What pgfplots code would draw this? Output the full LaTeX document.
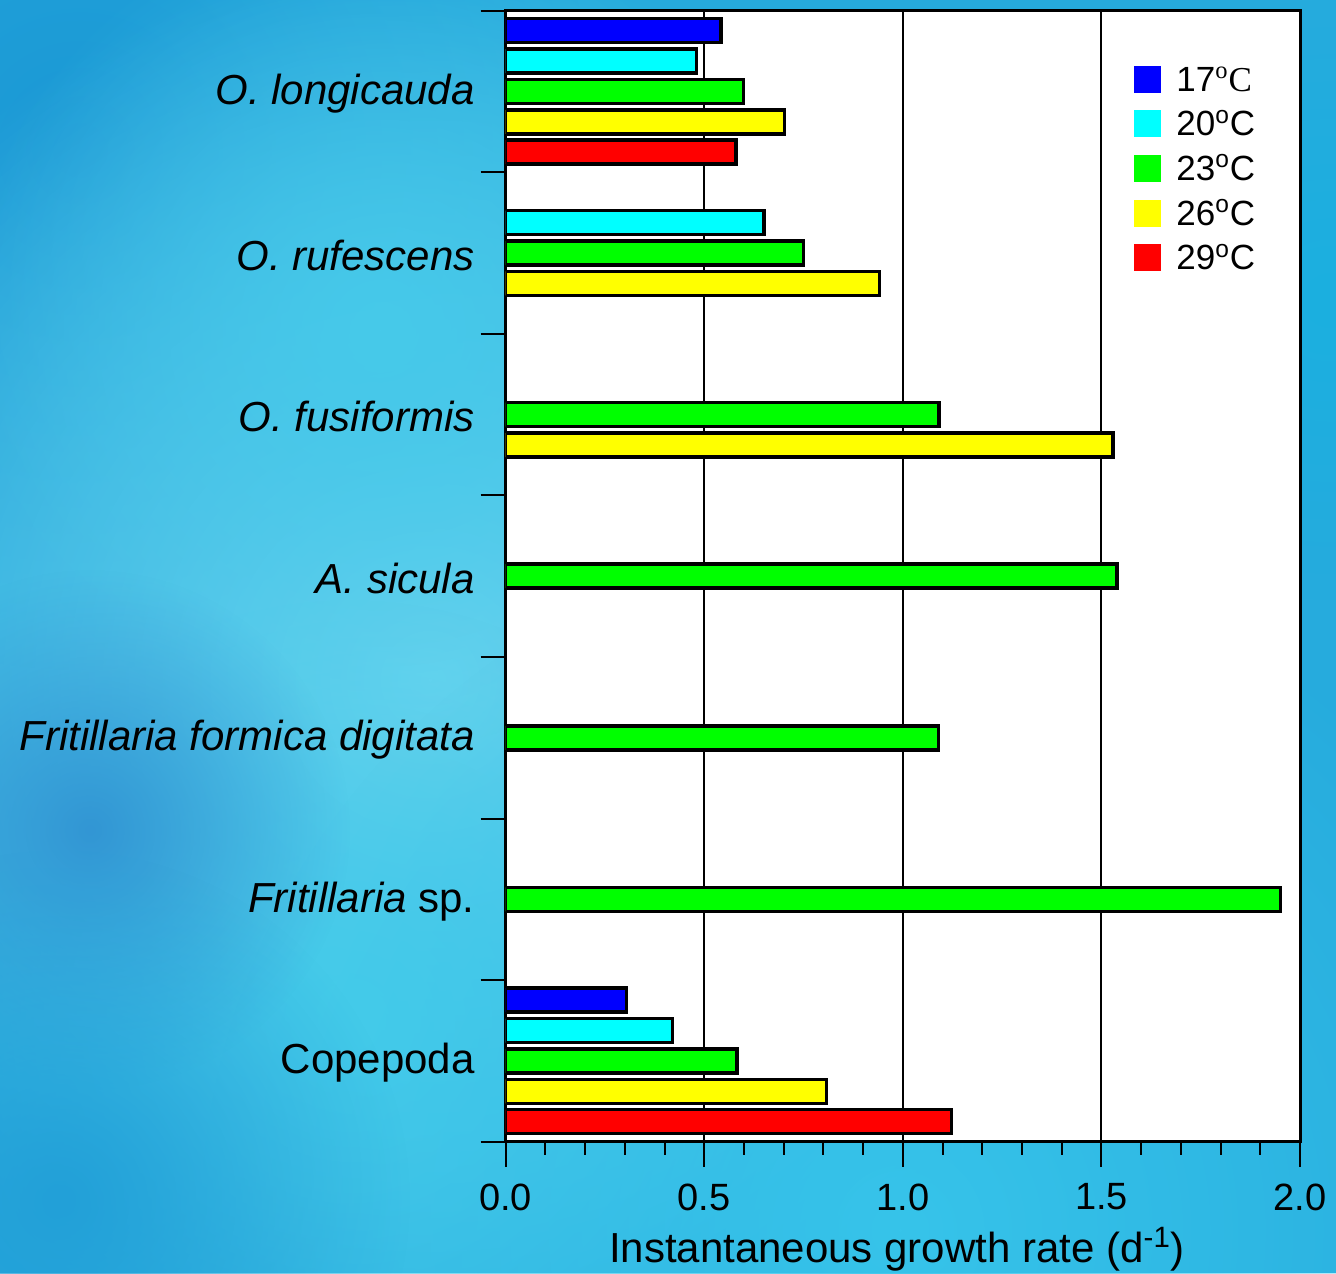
\documentclass[border=0pt]{standalone}
\usepackage{pgfplots}
\pgfplotsset{compat=1.18}
\usepackage{fontspec}
\setmainfont{Liberation Sans}
\newfontfamily\timesfont{Liberation Serif}
\usetikzlibrary{fadings}
\tikzfading[name=soft, inner color=transparent!0, outer color=transparent!100]
\definecolor{bgbase}{HTML}{26ABDD}
\definecolor{cA}{HTML}{0000FF}
\definecolor{cB}{HTML}{00FFFF}
\definecolor{cC}{HTML}{00FF00}
\definecolor{cD}{HTML}{FFFF00}
\definecolor{cE}{HTML}{FF0000}
\begin{document}
\begin{tikzpicture}
\begin{scope}[x=0.5pt,y=-0.5pt,shift={(-252.85pt,570.85pt)}]
  \fill[bgbase] (0,0) rectangle (1336,1273);
  \fill[color={rgb,255:red,27;green,152;blue,213}, path fading=soft] (80,150) circle (520);
  \fill[color={rgb,255:red,110;green,214;blue,240}, path fading=soft] (430,680) circle (720);
  \fill[color={rgb,255:red,70;green,202;blue,234}, path fading=soft] (380,330) circle (420);
  \fill[color={rgb,255:red,70;green,205;blue,234}, path fading=soft] (350,1020) circle (420);
  \fill[color={rgb,255:red,55;green,196;blue,234}, path fading=soft] (900,1230) circle (700);
  \fill[color={rgb,255:red,50;green,150;blue,212}, path fading=soft] (90,830) circle (260);
  \fill[color={rgb,255:red,34;green,160;blue,216}, path fading=soft] (60,1200) circle (350);
  \fill[color={rgb,255:red,27;green,176;blue,224}, path fading=soft] (1330,300) circle (300);
\end{scope}
\begin{axis}[
  at={(0pt,0pt)}, anchor=south west,
  scale only axis, width=397.15pt, height=565.5pt,
  xmin=0, xmax=2, ymin=-0.5, ymax=6.5,
  axis background/.style={fill=white},
  axis line style={line width=1.5pt},
  xbar, bar width=0.1485,
  xtick={0,0.5,1,1.5,2}, minor x tick num=4,
  xtick pos=bottom, ytick pos=left, tick align=outside,
  major tick length=12.5pt, minor tick length=6.5pt,
  tick style={black, line width=1pt},
  xmajorgrids, major grid style={black,line width=1pt},
  ytick={-0.5,0.5,1.5,2.5,3.5,4.5,5.5,6.5}, yticklabels={},
  extra y ticks={0,1,2,3,4,5,6},
  extra y tick labels={Copepoda, \textit{Fritillaria} sp., \textit{Fritillaria formica digitata}, \textit{A. sicula}, \textit{O. fusiformis}, \textit{O. rufescens}, \textit{O. longicauda}},
  extra y tick style={major tick length=0pt, yticklabel style={font=\fontsize{21}{24}\selectfont, xshift=-12pt, yshift=-1pt}},
  xticklabel style={font=\fontsize{19}{22}\selectfont, yshift=-5pt},
  xlabel={Instantaneous growth rate (d\textsuperscript{-1})},
  xlabel style={font=\fontsize{21}{24}\selectfont, at={(axis description cs:0.4926,0)}, anchor=base, yshift=-60.2pt},
  legend style={draw=none, fill=none, at={(rel axis cs:0.791,0.954)}, anchor=north west,
    font=\fontsize{17.5}{20}\selectfont, inner sep=0pt, row sep=6.2pt,
    nodes={inner sep=1.5pt, text height=12.6pt, text depth=0.5pt},
    /tikz/every odd column/.append style={column sep=6pt}},
  legend cell align=left,
  legend image code/.code={\fill[#1,draw=none] (0pt,-6.75pt) rectangle (13.5pt,6.75pt);},
  /pgf/number format/.cd, fixed, fixed zerofill, precision=1, assume math mode=true,
]
\addplot[fill=cA, draw=black, line width=1.75pt, bar shift=0.376] coordinates {(0.5415,6) (0.304,0)};
\addplot[fill=cB, draw=black, line width=1.75pt, bar shift=0.188] coordinates {(0.481,6) (0.651,5) (0.420,0)};
\addplot[fill=cC, draw=black, line width=1.75pt, bar shift=0] coordinates {(0.599,6) (0.750,5) (1.091,4) (1.539,3) (1.090,2) (1.951,1) (0.582,0)};
\addplot[fill=cD, draw=black, line width=1.75pt, bar shift=-0.188] coordinates {(0.702,6) (0.941,5) (1.529,4) (0.808,0)};
\addplot[fill=cE, draw=black, line width=1.75pt, bar shift=-0.376] coordinates {(0.580,6) (1.122,0)};
\legend{17{\timesfont\textsuperscript{o}C}, 20\textsuperscript{o}C, 23\textsuperscript{o}C, 26\textsuperscript{o}C, 29\textsuperscript{o}C}
\end{axis}
\pgfresetboundingbox
\useasboundingbox (-252.85pt,-65.65pt) rectangle (415.15pt,570.85pt);
\end{tikzpicture}
\end{document}
